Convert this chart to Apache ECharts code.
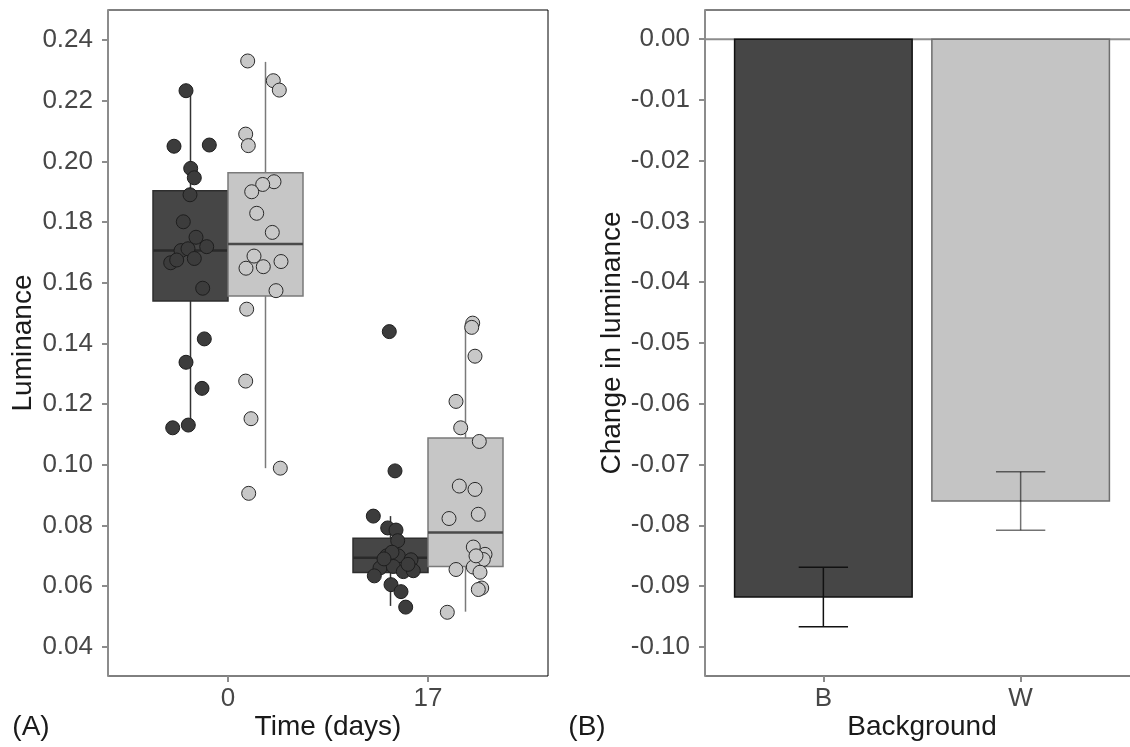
<!DOCTYPE html>
<html><head><meta charset="utf-8">
<script src="https://cdn.jsdelivr.net/npm/echarts@6/dist/echarts.min.js"></script>
<style>html,body{margin:0;padding:0;background:#fff}#c{width:1130px;height:747px}</style>
</head><body><div id="c"></div>
<script>
// ---------- Panel A data ----------
const timeLabels = ['0', '17'];
const yTicksA = [0.04, 0.06, 0.08, 0.10, 0.12, 0.14, 0.16, 0.18, 0.20, 0.22, 0.24];

// jittered points (x in category units: 1 = day 0, 2 = day 17)
const dark0X = [0.79, 0.73, 0.9065, 0.8135, 0.8315, 0.81, 0.7765, 0.84, 0.8935, 0.765, 0.80, 0.8315, 0.7135, 0.7435, 0.8735, 0.8815, 0.79, 0.87, 0.7235, 0.8015];
const dark0Y = [0.2233, 0.2050, 0.2054, 0.1977, 0.1946, 0.1890, 0.1801, 0.1750, 0.1719, 0.1706, 0.1712, 0.1680, 0.1666, 0.1675, 0.1582, 0.1415, 0.1338, 0.1252, 0.1122, 0.1131];
const light0X = [1.0985, 1.2265, 1.2565, 1.0885, 1.1015, 1.23, 1.1735, 1.1185, 1.1435, 1.2215, 1.13, 1.265, 1.09, 1.1765, 1.24, 1.0935, 1.0885, 1.115, 1.2615, 1.1035];
const light0Y = [0.2331, 0.2266, 0.2235, 0.2090, 0.2052, 0.1933, 0.1924, 0.1900, 0.1829, 0.1766, 0.1688, 0.1670, 0.1648, 0.1653, 0.1574, 0.1513, 0.1276, 0.1152, 0.0989, 0.0906];
const dark17X = [1.8065, 1.835, 1.7265, 1.7985, 1.84, 1.8485, 1.7935, 1.8515, 1.915, 1.76, 1.8265, 1.8765, 1.9265, 1.7315, 1.815, 1.865, 1.8885, 1.90, 1.82, 1.78];
const dark17Y = [0.1439, 0.0980, 0.0831, 0.0792, 0.0785, 0.0750, 0.0700, 0.0700, 0.0687, 0.0660, 0.0665, 0.0648, 0.0651, 0.0634, 0.0605, 0.0582, 0.0531, 0.0672, 0.0712, 0.0690];
const light17X = [2.2235, 2.2185, 2.235, 2.14, 2.1635, 2.2565, 2.1565, 2.235, 2.105, 2.2515, 2.2265, 2.285, 2.2765, 2.14, 2.2265, 2.26, 2.2685, 2.2515, 2.0965, 2.24];
const light17Y = [0.1467, 0.1453, 0.1358, 0.1209, 0.1122, 0.1077, 0.0930, 0.0919, 0.0823, 0.0837, 0.0729, 0.0705, 0.0688, 0.0655, 0.0663, 0.0646, 0.0594, 0.0589, 0.0514, 0.0700];

// box statistics [lower whisker, Q1, median, Q3, upper whisker] per time point
const boxDark  = [[0.1122, 0.1540, 0.1706, 0.1903, 0.2233], [0.0535, 0.0645, 0.0694, 0.0758, 0.0831]];
const boxLight = [[0.0989, 0.1556, 0.1728, 0.1963, 0.2328], [0.0516, 0.0665, 0.0777, 0.1088, 0.1467]];

// ---------- Panel B data ----------
const backgrounds = ['B', 'W'];
const changeMean = [-0.0918, -0.0760];
const changeSE = [0.0049, 0.0048];
const yTicksB = [-0.10, -0.09, -0.08, -0.07, -0.06, -0.05, -0.04, -0.03, -0.02, -0.01, 0.00];

// ---------- styling ----------
const FONT = '"Liberation Sans", Arial, sans-serif';
const DARK = '#464646', LIGHT = '#c6c6c6';
const HALF = 0.1875, BOXW = 0.1875;

function zip(xs, ys) { return xs.map((x, i) => [x, ys[i]]); }

function boxRender(fill, stroke, med, whisk) {
  return function (params, api) {
    const x = api.value(0);
    const lo = api.value(1), q1 = api.value(2), md = api.value(3), q3 = api.value(4), hi = api.value(5);
    const pLo = api.coord([x, lo]), pHi = api.coord([x, hi]);
    const pQ1 = api.coord([x, q1]), pQ3 = api.coord([x, q3]);
    const a = api.coord([x - BOXW, q3]), b = api.coord([x + BOXW, q1]);
    const m1 = api.coord([x - BOXW, md]), m2 = api.coord([x + BOXW, md]);
    return {
      type: 'group', children: [
        { type: 'line', shape: { x1: pLo[0], y1: pLo[1], x2: pQ1[0], y2: pQ1[1] }, style: { stroke: whisk, lineWidth: 1.5 } },
        { type: 'line', shape: { x1: pQ3[0], y1: pQ3[1], x2: pHi[0], y2: pHi[1] }, style: { stroke: whisk, lineWidth: 1.5 } },
        { type: 'rect', shape: { x: a[0], y: a[1], width: b[0] - a[0], height: b[1] - a[1] }, style: { fill: fill, stroke: stroke, lineWidth: 1.5 } },
        { type: 'line', shape: { x1: m1[0], y1: m1[1], x2: m2[0], y2: m2[1] }, style: { stroke: med, lineWidth: 2.5 } }
      ]
    };
  };
}

const darkBoxData = boxDark.map((s, i) => [i + 1 - HALF].concat(s));
const lightBoxData = boxLight.map((s, i) => [i + 1 + HALF].concat(s));
const barData = backgrounds.map((b, i) => [i + 1, changeMean[i], changeSE[i]]);
const barFill = [DARK, '#c4c4c4'];
const barStroke = ['#111111', '#6e6e6e'];
const errColor = ['#111111', 'rgba(0,0,0,0.55)'];

const axisGray = '#8c8c8c';
function xAxisCfg(grid, labels) {
  return {
    type: 'value', gridIndex: grid, min: 0.4, max: 2.6,
    axisLine: { show: false, onZero: false },
    axisTick: { show: true, customValues: [1, 2], length: 6, lineStyle: { color: axisGray, width: 2 } },
    axisLabel: { customValues: [1, 2], formatter: v => labels[Math.round(v) - 1], fontSize: 26, color: '#474747', fontFamily: FONT, margin: 10 },
    splitLine: { show: false }
  };
}
function yAxisCfg(grid, min, max, ticks) {
  return {
    type: 'value', gridIndex: grid, min: min, max: max,
    axisLine: { show: true, onZero: false, lineStyle: { color: axisGray, width: 2 } },
    axisTick: { show: true, customValues: ticks, length: 6, lineStyle: { color: axisGray, width: 2 } },
    axisLabel: { customValues: ticks, formatter: v => v.toFixed(2), fontSize: 26, color: '#474747', fontFamily: FONT, margin: 15 },
    splitLine: { show: false }
  };
}

function txt(x, y, s, rot) {
  return { type: 'text', x: x, y: y, rotation: rot || 0, z: 10,
    style: { text: s, font: '28px ' + FONT, fill: '#1a1a1a', align: 'center', verticalAlign: 'middle' } };
}

const chart = echarts.init(document.getElementById('c'), null, { renderer: 'canvas' });
chart.setOption({
  animation: false,
  backgroundColor: '#ffffff',
  textStyle: { fontFamily: FONT },
  grid: [
    { left: 108, top: 10, width: 440, height: 666, show: true, borderColor: '#000', borderWidth: 1, containLabel: false, outerBoundsMode: 'none' },
    { left: 705, top: 10, width: 434, height: 666, show: true, borderColor: '#000', borderWidth: 1, containLabel: false, outerBoundsMode: 'none' }
  ],
  xAxis: [xAxisCfg(0, timeLabels), xAxisCfg(1, backgrounds)],
  yAxis: [yAxisCfg(0, 0.0304, 0.2499, yTicksA), yAxisCfg(1, -0.1048, 0.0048, yTicksB)],
  graphic: [
    txt(23, 343, 'Luminance', Math.PI / 2),
    txt(328, 727, 'Time (days)'),
    txt(612, 343, 'Change in luminance', Math.PI / 2),
    txt(922, 727, 'Background'),
    txt(31, 727, '(A)'),
    txt(587, 727, '(B)')
  ],
  series: [
    { type: 'custom', xAxisIndex: 0, yAxisIndex: 0, z: 2, renderItem: boxRender(DARK, '#2e2e2e', '#2a2a2a', '#333333'), data: darkBoxData, encode: { x: 0, y: [1, 2, 3, 4, 5] } },
    { type: 'custom', xAxisIndex: 0, yAxisIndex: 0, z: 2, renderItem: boxRender(LIGHT, '#7a7a7a', '#4a4a4a', '#7a7a7a'), data: lightBoxData, encode: { x: 0, y: [1, 2, 3, 4, 5] } },
    { type: 'scatter', xAxisIndex: 0, yAxisIndex: 0, z: 3, symbolSize: 14, data: zip(dark0X, dark0Y).concat(zip(dark17X, dark17Y)),
      itemStyle: { color: '#3c3c3c', borderColor: '#1e1e1e', borderWidth: 1, opacity: 1 } },
    { type: 'scatter', xAxisIndex: 0, yAxisIndex: 0, z: 3, symbolSize: 14, data: zip(light0X, light0Y).concat(zip(light17X, light17Y)),
      itemStyle: { color: '#c8c8c8', borderColor: '#2a2a2a', borderWidth: 1, opacity: 1 } },
    { type: 'custom', xAxisIndex: 1, yAxisIndex: 1, z: 1, data: [[0]],
      renderItem: function (params, api) {
        const p1 = api.coord([0.4, 0]), p2 = api.coord([2.6, 0]);
        return { type: 'line', shape: { x1: p1[0], y1: p1[1], x2: p2[0], y2: p2[1] }, style: { stroke: axisGray, lineWidth: 2 } };
      }, encode: { x: 0, y: 0 } },
    { type: 'custom', xAxisIndex: 1, yAxisIndex: 1, z: 2, data: barData, encode: { x: 0, y: [1] },
      renderItem: function (params, api) {
        const i = params.dataIndex;
        const x = api.value(0), m = api.value(1), se = api.value(2);
        const a = api.coord([x - 0.45, 0]), b = api.coord([x + 0.45, m]);
        const t = api.coord([x, m + se]), u = api.coord([x, m - se]);
        const c1 = api.coord([x - 0.125, m + se]), c2 = api.coord([x + 0.125, m + se]);
        const d1 = api.coord([x - 0.125, m - se]), d2 = api.coord([x + 0.125, m - se]);
        const ec = errColor[i];
        return { type: 'group', children: [
          { type: 'rect', shape: { x: a[0], y: a[1], width: b[0] - a[0], height: b[1] - a[1] }, style: { fill: barFill[i], stroke: barStroke[i], lineWidth: 1.5 } },
          { type: 'line', shape: { x1: t[0], y1: t[1], x2: u[0], y2: u[1] }, style: { stroke: ec, lineWidth: 1.5 } },
          { type: 'line', shape: { x1: c1[0], y1: c1[1], x2: c2[0], y2: c2[1] }, style: { stroke: ec, lineWidth: 1.5 } },
          { type: 'line', shape: { x1: d1[0], y1: d1[1], x2: d2[0], y2: d2[1] }, style: { stroke: ec, lineWidth: 1.5 } }
        ] };
      } }
  ]
});
</script>
</body></html>
